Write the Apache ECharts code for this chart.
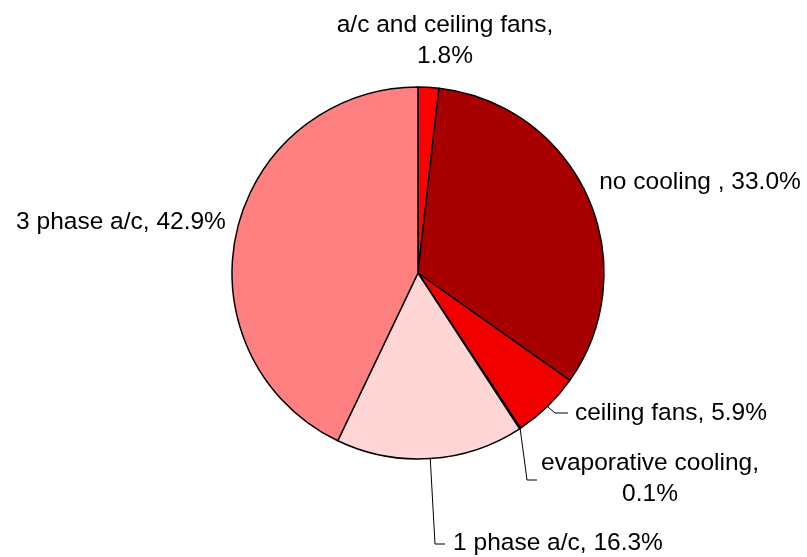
<!DOCTYPE html>
<html>
<head>
<meta charset="utf-8">
<script src="https://cdn.jsdelivr.net/npm/echarts@6/dist/echarts.min.js"></script>
<style>
html,body{margin:0;padding:0;background:#fff;}
#chart{width:807px;height:557px;}
</style>
</head>
<body>
<div id="chart"></div>
<script>
// Share of households by cooling type
var categories = ['a/c and ceiling fans', 'no cooling ', 'ceiling fans', 'evaporative cooling', '1 phase a/c', '3 phase a/c'];
var shares = [1.8, 33.0, 5.9, 0.1, 16.3, 42.9];
var sliceColors = ['#FF0000', '#A80000', '#F20000', '#E00000', '#FFD5D5', '#FF8080'];

// label text: name and share, with a line break where the label wraps
var labelBreak = [true, false, false, true, false, false];

var CX = 418, CY = 273, R = 186;

// label centre per slice: [x, y]
var labelAnchor = [
  [445, 41],
  [700, 182],
  [671, 413],
  [650, 479],
  [558, 543],
  [121, 222]
];
// leader line shape per slice: null = no leader; otherwise [elbowX, elbowY, endX, endY]
var leaders = [
  null,
  null,
  [555, 413, 568, 413],
  [527, 480, 537, 480],
  [435, 544, 445, 544],
  null
];

var total = shares.reduce(function (a, b) { return a + b; }, 0);
function edgePoint(i) {
  var before = 0;
  for (var k = 0; k < i; k++) before += shares[k];
  var mid = (before + shares[i] / 2) / total * Math.PI * 2;
  return [CX + R * Math.sin(mid), CY - R * Math.cos(mid)];
}

var data = categories.map(function (c, i) {
  return {
    name: c,
    value: shares[i],
    itemStyle: { color: sliceColors[i] },
    labelLine: { show: !!leaders[i] }
  };
});

var chart = echarts.init(document.getElementById('chart'), null, { renderer: 'canvas' });
chart.setOption({
  backgroundColor: '#ffffff',
  animation: false,
  series: [{
    type: 'pie',
    center: [CX, CY],
    radius: R,
    startAngle: 90,
    clockwise: true,
    avoidLabelOverlap: false,
    silent: true,
    data: data,
    itemStyle: { borderColor: '#000000', borderWidth: 1.5 },
    label: {
      show: true,
      position: 'outside',
      color: '#000000',
      fontFamily: 'Liberation Sans, Arial, sans-serif',
      fontSize: 24.5,
      lineHeight: 31,
      align: 'center',
      formatter: function (p) {
        var v = shares[p.dataIndex].toFixed(1) + '%';
        return labelBreak[p.dataIndex] ? p.name + ',\n' + v : p.name + ', ' + v;
      }
    },
    labelLine: {
      show: true,
      length: 10,
      length2: 10,
      lineStyle: { color: '#000000', width: 1 }
    },
    labelLayout: function (params) {
      var i = params.dataIndex;
      var a = labelAnchor[i];
      var out = {
        x: a[0],
        y: a[1],
        align: 'center',
        verticalAlign: 'middle'
      };
      if (leaders[i]) {
        var s = edgePoint(i);
        var l = leaders[i];
        out.labelLinePoints = [s, [l[0], l[1]], [l[2], l[3]]];
      }
      return out;
    }
  }]
});
</script>
</body>
</html>
